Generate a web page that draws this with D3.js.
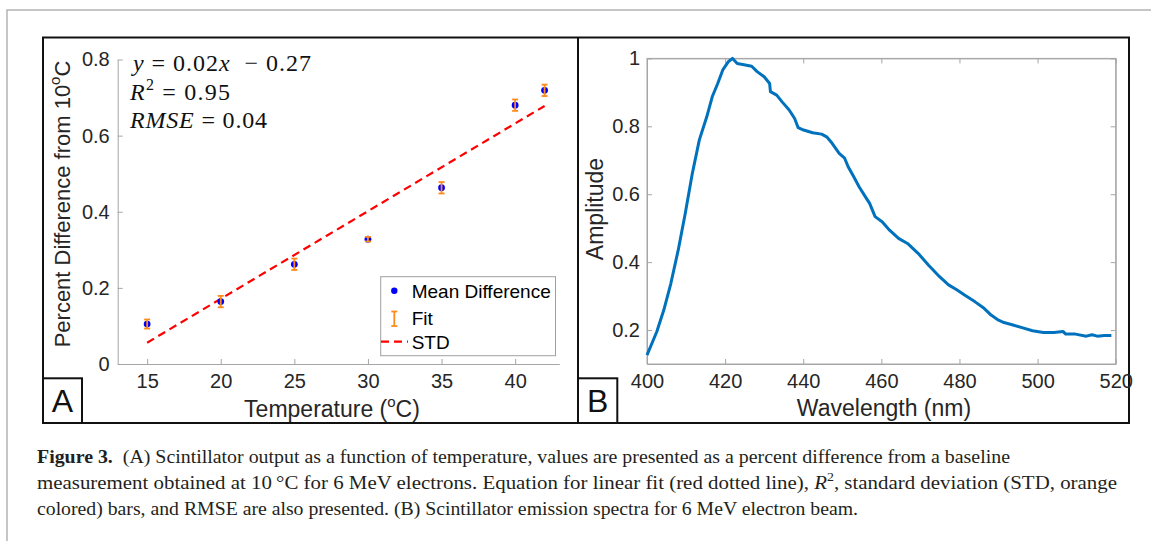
<!DOCTYPE html>
<html><head><meta charset="utf-8">
<script src="https://cdn.jsdelivr.net/npm/d3@7"></script>
<style>
body{margin:0;background:#fff;}
svg{display:block;}
</style></head><body>
<svg id="c" width="1151" height="541"></svg>
<script>
// ---------- Panel A data ----------
const temps = [15, 20, 25, 30, 35, 40, 42];
const meanDiff = [0.105, 0.164, 0.262, 0.328, 0.463, 0.680, 0.719];
const stdDev = [0.012, 0.015, 0.015, 0.006, 0.015, 0.015, 0.015];
const fitX = [15, 42];
const fitY = [0.056, 0.678];
const tempTicks = [15, 20, 25, 30, 35, 40];
const tempTickLabels = ["15", "20", "25", "30", "35", "40"];
const diffTicks = [0, 0.2, 0.4, 0.6, 0.8];
const diffTickLabels = ["0", "0.2", "0.4", "0.6", "0.8"];
const legendLabels = ["Mean Difference", "Fit", "STD"];

// ---------- Panel B data ----------
const wavelength = [400, 402.5, 404.3, 406.1, 408.0, 409.8, 411.6, 413.4, 415.3, 416.7, 418.1, 419.4, 420.8, 421.9,
  423.1, 424.5, 426.8, 428.2, 430.0, 431.4, 431.6, 433.2, 434.6, 436.4, 437.8, 438.7, 440.1, 442.4, 444.7, 446.0,
  447.4, 449.2, 450.6, 451.5, 452.9, 454.3, 455.6, 457.0, 458.4, 460.2, 462.1, 464.4, 466.7, 469.4, 472.1, 474.9,
  477.2, 479.4, 481.3, 484.0, 486.3, 488.1, 490.0, 491.4, 493.7, 496.0, 498.7, 501.5, 504.2, 506.5, 507.2, 509.7,
  512.5, 513.9, 515.3, 517.1, 518.9];
const amplitude = [0.126, 0.195, 0.259, 0.337, 0.436, 0.544, 0.661, 0.760, 0.828, 0.887, 0.926, 0.966, 0.990, 1.000,
  0.985, 0.982, 0.977, 0.961, 0.946, 0.926, 0.902, 0.892, 0.872, 0.848, 0.823, 0.796, 0.789, 0.781, 0.777, 0.769,
  0.750, 0.720, 0.706, 0.681, 0.652, 0.622, 0.598, 0.573, 0.534, 0.519, 0.494, 0.470, 0.455, 0.426, 0.391, 0.357,
  0.333, 0.318, 0.303, 0.283, 0.264, 0.244, 0.229, 0.222, 0.215, 0.207, 0.198, 0.193, 0.193, 0.196, 0.188, 0.188,
  0.182, 0.186, 0.182, 0.184, 0.184];
const waveTicks = [400, 420, 440, 460, 480, 500, 520];
const waveTickLabels = ["400", "420", "440", "460", "480", "500", "520"];
const ampTicks = [0.2, 0.4, 0.6, 0.8, 1];
const ampTickLabels = ["0.2", "0.4", "0.6", "0.8", "1"];

const captionLines = [
  "(A) Scintillator output as a function of temperature, values are presented as a percent difference from a baseline",
  "measurement obtained at 10\u2009\u00b0C for 6 MeV electrons. Equation for linear fit (red dotted line), ",
  ", standard deviation (STD, orange",
  "colored) bars, and RMSE are also presented. (B) Scintillator emission spectra for 6 MeV electron beam."
];

// ---------- drawing ----------
const svg = d3.select("#c");
const SANS = "'Liberation Sans', Arial, sans-serif";
const SERIF = "'Liberation Serif', 'Times New Roman', serif";
const AX = "#a6a6a6", TXT = "#262626";

// outer page frame
svg.append("path").attr("d", "M7,541 V10 H1151").attr("fill", "none").attr("stroke", "#b4b4b4").attr("stroke-width", 1.5);
// black panel frame
svg.append("rect").attr("x", 43).attr("y", 37.5).attr("width", 1086).attr("height", 385.5)
  .attr("fill", "none").attr("stroke", "#111").attr("stroke-width", 2);
svg.append("line").attr("x1", 578).attr("x2", 578).attr("y1", 37.5).attr("y2", 423).attr("stroke", "#111").attr("stroke-width", 2);

function styleAxis(g, fs) {
  g.select(".domain").attr("stroke", AX).attr("stroke-width", 1);
  g.selectAll(".tick line").attr("stroke", AX).attr("stroke-width", 1);
  g.selectAll(".tick text").attr("fill", TXT).attr("font-family", SANS).attr("font-size", fs);
}

// ---------- Panel A ----------
const xA = d3.scaleLinear().domain([13, 43]).range([117.7, 559.3]);
const yA = d3.scaleLinear().domain([0, 0.8]).range([364, 59.5]);

const gxA = svg.append("g").attr("transform", `translate(0,${yA(0)})`)
  .call(d3.axisBottom(xA).tickValues(tempTicks).tickFormat((d, i) => tempTickLabels[i])
    .tickSizeInner(-5).tickSizeOuter(0).tickPadding(10));
styleAxis(gxA, 20);
const gyA = svg.append("g").attr("transform", `translate(${xA(13)},0)`)
  .call(d3.axisLeft(yA).tickValues(diffTicks).tickFormat((d, i) => diffTickLabels[i])
    .tickSizeInner(-5).tickSizeOuter(0).tickPadding(8));
styleAxis(gyA, 20);

// fit line (dashed red)
svg.append("path")
  .attr("d", d3.line().x(d => xA(d[0])).y(d => yA(d[1]))(fitX.map((x, i) => [x, fitY[i]])))
  .attr("fill", "none").attr("stroke", "#ff0000").attr("stroke-width", 2.2).attr("stroke-dasharray", "8,5");

// points
const ptsA = temps.map((t, i) => ({ t, m: meanDiff[i], s: stdDev[i] }));
svg.append("g").selectAll("circle").data(ptsA).join("circle")
  .attr("cx", d => xA(d.t)).attr("cy", d => yA(d.m)).attr("r", 3.4).attr("fill", "#0000ff");
// error bars
const ORG = "#ff8a1c";
const eb = svg.append("g").attr("stroke", ORG).attr("stroke-width", 1.8).attr("fill", "none");
ptsA.forEach(d => {
  const x = xA(d.t), y1 = yA(d.m - d.s), y2 = yA(d.m + d.s);
  eb.append("line").attr("x1", x).attr("x2", x).attr("y1", y1).attr("y2", y2);
  eb.append("line").attr("x1", x - 3).attr("x2", x + 3).attr("y1", y1).attr("y2", y1);
  eb.append("line").attr("x1", x - 3).attr("x2", x + 3).attr("y1", y2).attr("y2", y2);
});

// equation text
const eq = svg.append("g").attr("font-family", SERIF).attr("font-size", 24).attr("fill", "#111");
const e1 = eq.append("text").attr("x", 133).attr("y", 71).attr("xml:space", "preserve")
  .attr("textLength", 178).attr("lengthAdjust", "spacing");
e1.append("tspan").attr("font-style", "italic").text("y");
e1.append("tspan").text(" = 0.02");
e1.append("tspan").attr("font-style", "italic").text("x");
e1.append("tspan").text("  \u2212 0.27");
const e2 = eq.append("text").attr("x", 130).attr("y", 100)
  .attr("textLength", 100).attr("lengthAdjust", "spacing");
e2.append("tspan").attr("font-style", "italic").text("R");
e2.append("tspan").attr("font-size", 16).attr("dy", -10).text("2");
e2.append("tspan").attr("dy", 10).text(" = 0.95");
const e3 = eq.append("text").attr("x", 130).attr("y", 127.5)
  .attr("textLength", 137).attr("lengthAdjust", "spacing");
e3.append("tspan").attr("font-style", "italic").text("RMSE");
e3.append("tspan").text(" = 0.04");

// legend
const lg = svg.append("g");
lg.append("rect").attr("x", 380.7).attr("y", 276.7).attr("width", 174.8).attr("height", 79)
  .attr("fill", "#fff").attr("stroke", "#a0a0a0").attr("stroke-width", 1);
lg.append("circle").attr("cx", 394.3).attr("cy", 290.7).attr("r", 3.2).attr("fill", "#0000ff");
lg.append("line").attr("x1", 394.3).attr("x2", 394.3).attr("y1", 311.5).attr("y2", 326).attr("stroke", ORG).attr("stroke-width", 1.8);
lg.append("line").attr("x1", 391.3).attr("x2", 397.3).attr("y1", 311.5).attr("y2", 311.5).attr("stroke", ORG).attr("stroke-width", 1.8);
lg.append("line").attr("x1", 391.3).attr("x2", 397.3).attr("y1", 326).attr("y2", 326).attr("stroke", ORG).attr("stroke-width", 1.8);
lg.append("line").attr("x1", 381).attr("x2", 408).attr("y1", 341.7).attr("y2", 341.7)
  .attr("stroke", "#ff0000").attr("stroke-width", 2.2).attr("stroke-dasharray", "8,5");
[297.5, 325, 348.5].forEach((y, i) => {
  lg.append("text").attr("x", 411.7).attr("y", y).attr("font-family", SANS).attr("font-size", 19)
    .attr("fill", "#000").text(legendLabels[i]);
});

// axis labels A
const xlA = svg.append("text").attr("x", 332).attr("y", 417).attr("text-anchor", "middle")
  .attr("font-family", SANS).attr("font-size", 23).attr("fill", TXT);
xlA.append("tspan").text("Temperature (");
xlA.append("tspan").attr("font-size", 15).attr("dy", -10).text("o");
xlA.append("tspan").attr("dy", 10).text("C)");
const ylA = svg.append("text").attr("transform", "translate(69.5,204) rotate(-90)").attr("text-anchor", "middle")
  .attr("font-family", SANS).attr("font-size", 22).attr("fill", TXT);
ylA.append("tspan").text("Percent Difference from 10");
ylA.append("tspan").attr("font-size", 15).attr("dy", -10).text("o");
ylA.append("tspan").attr("dy", 10).text("C");

// panel letter A
svg.append("rect").attr("x", 43).attr("y", 378.3).attr("width", 39).attr("height", 44.7)
  .attr("fill", "#fff").attr("stroke", "#111").attr("stroke-width", 2);
svg.append("text").attr("x", 62.5).attr("y", 412).attr("text-anchor", "middle")
  .attr("font-family", SANS).attr("font-size", 32).attr("fill", "#111").text("A");

// ---------- Panel B ----------
const xB = d3.scaleLinear().domain([400, 520]).range([647, 1115.7]);
const yB = d3.scaleLinear().domain([0.1, 1]).range([364, 58.4]);

svg.append("rect").attr("x", xB(400)).attr("y", yB(1)).attr("width", xB(520) - xB(400)).attr("height", yB(0.1) - yB(1))
  .attr("fill", "none").attr("stroke", AX).attr("stroke-width", 1);
const gxB = svg.append("g").attr("transform", `translate(0,${yB(0.1)})`)
  .call(d3.axisBottom(xB).tickValues(waveTicks).tickFormat((d, i) => waveTickLabels[i])
    .tickSizeInner(-5).tickSizeOuter(0).tickPadding(10));
styleAxis(gxB, 20);
const gyB = svg.append("g").attr("transform", `translate(${xB(400)},0)`)
  .call(d3.axisLeft(yB).tickValues(ampTicks).tickFormat((d, i) => ampTickLabels[i])
    .tickSizeInner(-5).tickSizeOuter(0).tickPadding(7));
styleAxis(gyB, 20);
const gtB = svg.append("g").attr("transform", `translate(0,${yB(1)})`)
  .call(d3.axisTop(xB).tickValues(waveTicks).tickFormat("").tickSizeInner(-5).tickSizeOuter(0));
styleAxis(gtB, 20);
const grB = svg.append("g").attr("transform", `translate(${xB(520)},0)`)
  .call(d3.axisRight(yB).tickValues(ampTicks).tickFormat("").tickSizeInner(-5).tickSizeOuter(0));
styleAxis(grB, 20);

svg.append("path")
  .attr("d", d3.line().x(d => xB(d[0])).y(d => yB(d[1]))(wavelength.map((w, i) => [w, amplitude[i]])))
  .attr("fill", "none").attr("stroke", "#0072bd").attr("stroke-width", 3).attr("stroke-linejoin", "round");

svg.append("text").attr("x", 884).attr("y", 416).attr("text-anchor", "middle")
  .attr("font-family", SANS).attr("font-size", 23).attr("fill", TXT).text("Wavelength (nm)");
svg.append("text").attr("transform", "translate(603,209) rotate(-90)").attr("text-anchor", "middle")
  .attr("font-family", SANS).attr("font-size", 23).attr("fill", TXT).text("Amplitude");

svg.append("rect").attr("x", 578).attr("y", 378.3).attr("width", 39.3).attr("height", 44.7)
  .attr("fill", "#fff").attr("stroke", "#111").attr("stroke-width", 2);
svg.append("text").attr("x", 597.7).attr("y", 412).attr("text-anchor", "middle")
  .attr("font-family", SANS).attr("font-size", 32).attr("fill", "#111").text("B");

// ---------- caption ----------
const cap = svg.append("g").attr("font-family", SERIF).attr("font-size", 19.5).attr("fill", "#231f20");
const c1 = cap.append("text").attr("x", 37).attr("y", 463).attr("xml:space", "preserve")
  .attr("textLength", 973).attr("lengthAdjust", "spacingAndGlyphs");
c1.append("tspan").attr("font-weight", "bold").text("Figure 3.");
c1.append("tspan").text("  " + captionLines[0]);
const c2 = cap.append("text").attr("x", 37).attr("y", 489).attr("xml:space", "preserve")
  .attr("textLength", 1080).attr("lengthAdjust", "spacingAndGlyphs");
c2.append("tspan").text(captionLines[1]);
c2.append("tspan").attr("font-style", "italic").text("R");
c2.append("tspan").attr("font-size", 13).attr("dy", -8).text("2");
c2.append("tspan").attr("dy", 8).text(captionLines[2]);
const c3 = cap.append("text").attr("x", 37).attr("y", 515)
  .attr("textLength", 821).attr("lengthAdjust", "spacingAndGlyphs");
c3.text(captionLines[3]);
</script>
</body></html>
